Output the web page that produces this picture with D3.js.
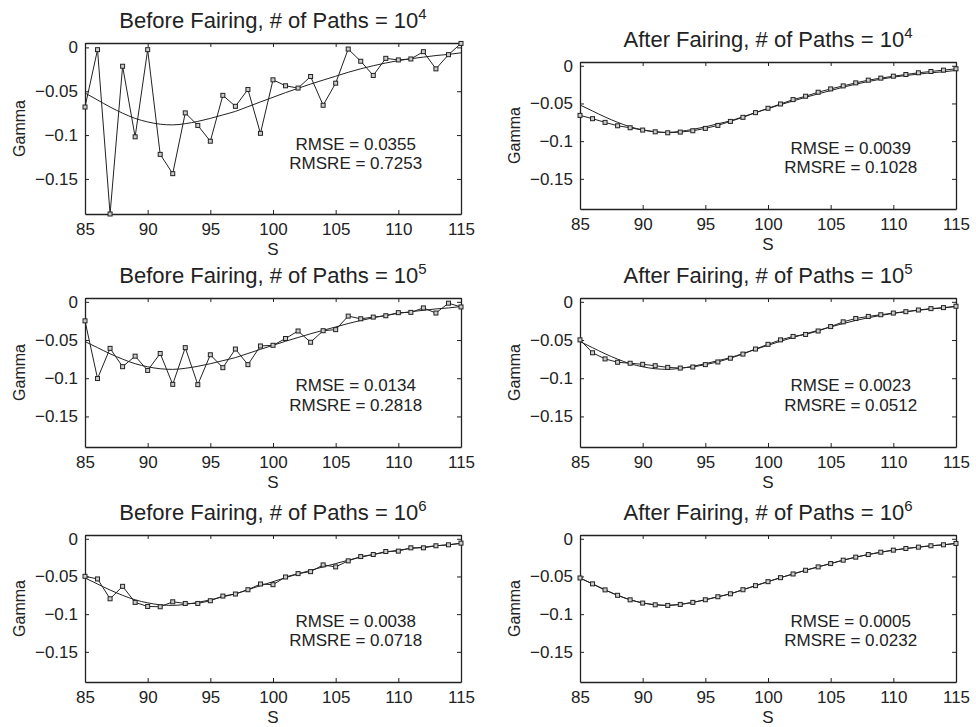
<!DOCTYPE html>
<html lang="en">
<head>
    <meta charset="UTF-8">
    <title>Gamma before and after fairing</title>
    <script src="https://cdnjs.cloudflare.com/ajax/libs/d3/7.8.5/d3.min.js"></script>
    <style>
        body { margin: 0; background: #fff; }
        text { font-family: "Liberation Sans", Arial, Helvetica, sans-serif; fill: #222; }
        .line { fill: none; stroke: #222; stroke-width: 1; }
        .dot { fill: #ccc; stroke: #222; stroke-width: 1; }
        .domain { stroke: #222; }
        .tick line { stroke: #222; }
    </style>
</head>
<body>
<div id="chart"></div>
<script>
    // spot prices on the x axis
    const S = d3.range(85, 116);

    // exact gamma (smooth curve, same in every panel)
    const trueGamma = [-0.052, -0.060, -0.068, -0.075, -0.081, -0.085, -0.0876, -0.0884, -0.087, -0.0844,
        -0.081, -0.077, -0.073, -0.0676, -0.0622, -0.0569, -0.0516, -0.0467, -0.0418, -0.0373,
        -0.0329, -0.0284, -0.0244, -0.0209, -0.0178, -0.0151, -0.0129, -0.0111, -0.0093, -0.008, -0.0062];

    // Monte Carlo estimates
    const before4 = [-0.068, -0.0026, -0.19, -0.0215, -0.102, -0.0026, -0.122, -0.144, -0.0747, -0.089,
        -0.107, -0.0547, -0.0672, -0.048, -0.098, -0.037, -0.0438, -0.0464, -0.0332, -0.066,
        -0.0408, -0.0019, -0.0158, -0.032, -0.0125, -0.0143, -0.0132, -0.0049, -0.0245, -0.0083, 0.0045];
    const after4 = [-0.0658, -0.0702, -0.0751, -0.0796, -0.0822, -0.0853, -0.0876, -0.0889, -0.088, -0.0862,
        -0.0831, -0.0791, -0.0738, -0.0684, -0.0622, -0.0564, -0.0507, -0.0449, -0.0404, -0.0351,
        -0.0307, -0.0267, -0.0227, -0.0191, -0.0164, -0.0138, -0.0116, -0.0093, -0.0076, -0.0058, -0.004];
    const before5 = [-0.0249, -0.1004, -0.0609, -0.0849, -0.0711, -0.0898, -0.0676, -0.108, -0.06, -0.1084,
        -0.0693, -0.0862, -0.0618, -0.0822, -0.0578, -0.0569, -0.048, -0.0382, -0.0529, -0.0378,
        -0.0364, -0.0187, -0.0222, -0.02, -0.0182, -0.0142, -0.0138, -0.008, -0.0147, -0.0018, -0.0067];
    const after5 = [-0.0498, -0.0667, -0.0747, -0.0791, -0.0804, -0.0818, -0.0836, -0.0858, -0.0867, -0.0853,
        -0.0822, -0.0787, -0.0738, -0.0684, -0.0618, -0.0556, -0.0498, -0.0453, -0.0427, -0.0382,
        -0.0324, -0.0262, -0.0218, -0.0191, -0.0169, -0.0147, -0.0129, -0.0107, -0.0089, -0.0076, -0.0058];
    const before6 = [-0.0498, -0.0533, -0.0796, -0.0631, -0.0844, -0.0898, -0.0902, -0.0836, -0.0858, -0.0858,
        -0.0822, -0.076, -0.0733, -0.0676, -0.06, -0.0609, -0.0507, -0.0462, -0.0436, -0.0347,
        -0.0373, -0.0293, -0.0236, -0.0209, -0.0169, -0.0164, -0.012, -0.012, -0.0093, -0.008, -0.0058];
    const after6 = [-0.052, -0.0598, -0.0678, -0.075, -0.081, -0.0853, -0.0876, -0.0884, -0.0871, -0.0844,
        -0.0809, -0.0769, -0.073, -0.0676, -0.0622, -0.0569, -0.0516, -0.0467, -0.0418, -0.0373,
        -0.0329, -0.0284, -0.0244, -0.0209, -0.0178, -0.0151, -0.0129, -0.0111, -0.0093, -0.008, -0.0062];

    const stage = ["Before Fairing", "After Fairing", "Before Fairing", "After Fairing", "Before Fairing", "After Fairing"];
    const exponent = ["4", "4", "5", "5", "6", "6"];
    const rmse = ["0.0355", "0.0039", "0.0134", "0.0023", "0.0038", "0.0005"];
    const rmsre = ["0.7253", "0.1028", "0.2818", "0.0512", "0.0718", "0.0232"];
    const series = [before4, after4, before5, after5, before6, after6];

    const xTicks = [85, 90, 95, 100, 105, 110, 115];
    const yTicks = [0, -0.05, -0.1, -0.15];
    const yTickLabels = ["0", "\u22120.05", "\u22120.1", "\u22120.15"];

    // panel boxes in page pixels
    const boxes = [
        {l: 85, r: 461, t: 43, b: 214},
        {l: 580, r: 956, t: 62, b: 209},
        {l: 85, r: 461, t: 298, b: 447},
        {l: 580, r: 956, t: 298, b: 447},
        {l: 85, r: 461, t: 535, b: 682},
        {l: 580, r: 956, t: 535, b: 682}
    ];

    const svg = d3.select("#chart").append("svg")
        .attr("width", 976)
        .attr("height", 727);

    boxes.forEach((bx, i) => {
        const x = d3.scaleLinear().domain([85, 115]).range([bx.l, bx.r]);
        const y = d3.scaleLinear().domain([-0.19, 0.005]).range([bx.b, bx.t]);
        const g = svg.append("g");

        // axes, ticks pointing inward on all four sides
        g.append("g").attr("transform", `translate(0,${bx.b})`)
            .call(d3.axisBottom(x).tickValues(xTicks).tickSizeInner(-4).tickSizeOuter(0).tickPadding(9))
            .call(a => a.selectAll("text").attr("font-size", 17));
        g.append("g").attr("transform", `translate(0,${bx.t})`)
            .call(d3.axisTop(x).tickValues(xTicks).tickSizeInner(-4).tickSizeOuter(0).tickFormat(""));
        g.append("g").attr("transform", `translate(${bx.l},0)`)
            .call(d3.axisLeft(y).tickValues(yTicks).tickSizeInner(-4).tickSizeOuter(0).tickPadding(7)
                .tickFormat((d, k) => yTickLabels[k]))
            .call(a => a.selectAll("text").attr("font-size", 17));
        g.append("g").attr("transform", `translate(${bx.r},0)`)
            .call(d3.axisRight(y).tickValues(yTicks).tickSizeInner(-4).tickSizeOuter(0).tickFormat(""));
        g.selectAll(".domain").attr("stroke-width", 1.3);
        g.selectAll("text").attr("fill", "#222");

        // exact curve
        const smooth = d3.line().x((d, k) => x(S[k])).y(d => y(d)).curve(d3.curveMonotoneX);
        g.append("path").attr("class", "line").attr("d", smooth(trueGamma));

        // estimate with square markers
        const jag = d3.line().x((d, k) => x(S[k])).y(d => y(d));
        g.append("path").attr("class", "line").attr("d", jag(series[i]));
        g.selectAll(".dot").data(series[i]).enter().append("rect")
            .attr("class", "dot")
            .attr("x", (d, k) => x(S[k]) - 2)
            .attr("y", d => y(d) - 2)
            .attr("width", 4)
            .attr("height", 4);

        // title with superscript
        const title = g.append("text")
            .attr("x", (bx.l + bx.r) / 2)
            .attr("y", bx.t - 15)
            .attr("text-anchor", "middle")
            .attr("font-size", 22)
            .text(stage[i] + ", # of Paths = 10");
        title.append("tspan").attr("dy", -9).attr("font-size", 15).text(exponent[i]);

        // axis labels
        g.append("text")
            .attr("x", (bx.l + bx.r) / 2)
            .attr("y", bx.b + 41)
            .attr("text-anchor", "middle")
            .attr("font-size", 17)
            .text("S");
        g.append("text")
            .attr("transform", `translate(${bx.l - 60},${(bx.t + bx.b) / 2}) rotate(-90)`)
            .attr("text-anchor", "middle")
            .attr("font-size", 16)
            .text("Gamma");

        // error annotation
        g.append("text")
            .attr("x", x(106.6))
            .attr("y", y(-0.117))
            .attr("text-anchor", "middle")
            .attr("font-size", 17)
            .text("RMSE = " + rmse[i]);
        g.append("text")
            .attr("x", x(106.6))
            .attr("y", y(-0.117) + 19.5)
            .attr("text-anchor", "middle")
            .attr("font-size", 17)
            .text("RMSRE = " + rmsre[i]);
    });
</script>
</body>
</html>
